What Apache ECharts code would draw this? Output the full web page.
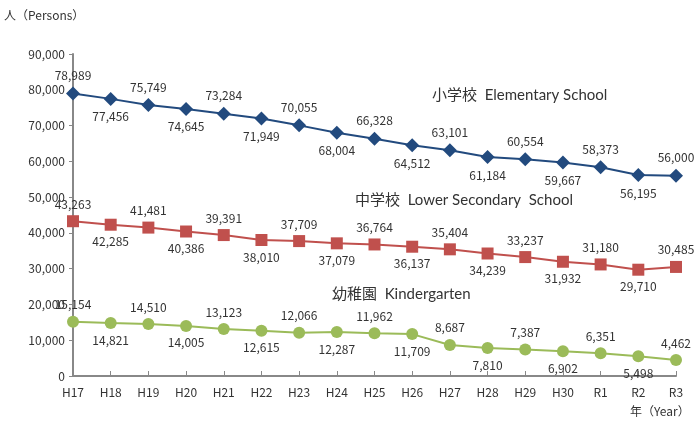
<!DOCTYPE html>
<html>
<head>
<meta charset="utf-8">
<script src="https://cdn.jsdelivr.net/npm/echarts@6/dist/echarts.min.js"></script>
<style>
  html, body { margin: 0; padding: 0; background: #fff; }
  #chart { width: 700px; height: 421px; }
</style>
</head>
<body>
<div id="chart"></div>
<script>
const years = ['H17', 'H18', 'H19', 'H20', 'H21', 'H22', 'H23', 'H24', 'H25',
  'H26', 'H27', 'H28', 'H29', 'H30', 'R1', 'R2', 'R3']
const elementary = [78989, 77456, 75749, 74645, 73284, 71949, 70055, 68004, 66328,
  64512, 63101, 61184, 60554, 59667, 58373, 56195, 56000]
const lowerSecondary = [43263, 42285, 41481, 40386, 39391, 38010, 37709, 37079, 36764,
  36137, 35404, 34239, 33237, 31932, 31180, 29710, 30485]
const kindergarten = [15154, 14821, 14510, 14005, 13123, 12615, 12066, 12287, 11962,
  11709, 8687, 7810, 7387, 6902, 6351, 5498, 4462]
const yTicks = [0, 10000, 20000, 30000, 40000, 50000, 60000, 70000, 80000, 90000]

const font = '"Noto Sans CJK JP", "Noto Sans", sans-serif'
const noteFont = '15px Lato, "Noto Sans CJK JP", sans-serif'
const fmt = (v) => v.toLocaleString('en-US')

// labels alternate above / below the points
function withLabels(vals) {
  return vals.map((v, i) => ({
    value: v,
    label: { position: i % 2 === 0 ? 'top' : 'bottom' },
  }))
}

function lineSeries(name, vals, color, symbol) {
  return {
    name,
    type: 'line',
    data: withLabels(vals),
    symbol,
    symbolSize: symbol === 'diamond' ? 14 : 12,
    lineStyle: { color, width: 2 },
    itemStyle: { color },
    label: {
      show: true,
      distance: 5,
      color: '#333',
      fontSize: 12,
      fontFamily: font,
      formatter: (p) => fmt(p.value),
    },
    animation: false,
  }
}

const chart = echarts.init(document.getElementById('chart'))
chart.setOption({
  backgroundColor: '#fff',
  grid: { left: 73, right: 24, top: 54, bottom: 45 },
  xAxis: {
    type: 'category',
    data: years,
    boundaryGap: false,
    axisLine: { lineStyle: { color: '#888', width: 2 } },
    axisTick: { inside: true, length: 5, lineStyle: { color: '#888' } },
    axisLabel: { color: '#333', fontSize: 12, fontFamily: font, margin: 10 },
  },
  yAxis: {
    type: 'value',
    min: 0,
    max: yTicks[yTicks.length - 1],
    interval: yTicks[1] - yTicks[0],
    axisLine: { show: true, lineStyle: { color: '#888', width: 2 } },
    axisTick: { show: true, length: 4, lineStyle: { color: '#888' } },
    splitLine: { show: false },
    axisLabel: {
      color: '#333', fontSize: 12, fontFamily: font, margin: 8,
      formatter: (v) => fmt(v),
    },
  },
  graphic: [
    { type: 'text', left: 4, top: 9,
      style: { text: '人（Persons）', fill: '#333', font: '12px ' + font } },
    { type: 'text', left: 630, top: 405,
      style: { text: '年（Year）', fill: '#333', font: '12px ' + font } },
    { type: 'text', left: 432, top: 88,
      style: { text: '小学校  Elementary School', fill: '#333', font: noteFont } },
    { type: 'text', left: 355, top: 193,
      style: { text: '中学校  Lower Secondary  School', fill: '#333', font: noteFont } },
    { type: 'text', left: 332, top: 287,
      style: { text: '幼稚園  Kindergarten', fill: '#333', font: noteFont } },
  ],
  series: [
    lineSeries('小学校', elementary, '#224A7E', 'diamond'),
    lineSeries('中学校', lowerSecondary, '#C0504D', 'rect'),
    lineSeries('幼稚園', kindergarten, '#9BBB59', 'circle'),
  ],
})
</script>
</body>
</html>
